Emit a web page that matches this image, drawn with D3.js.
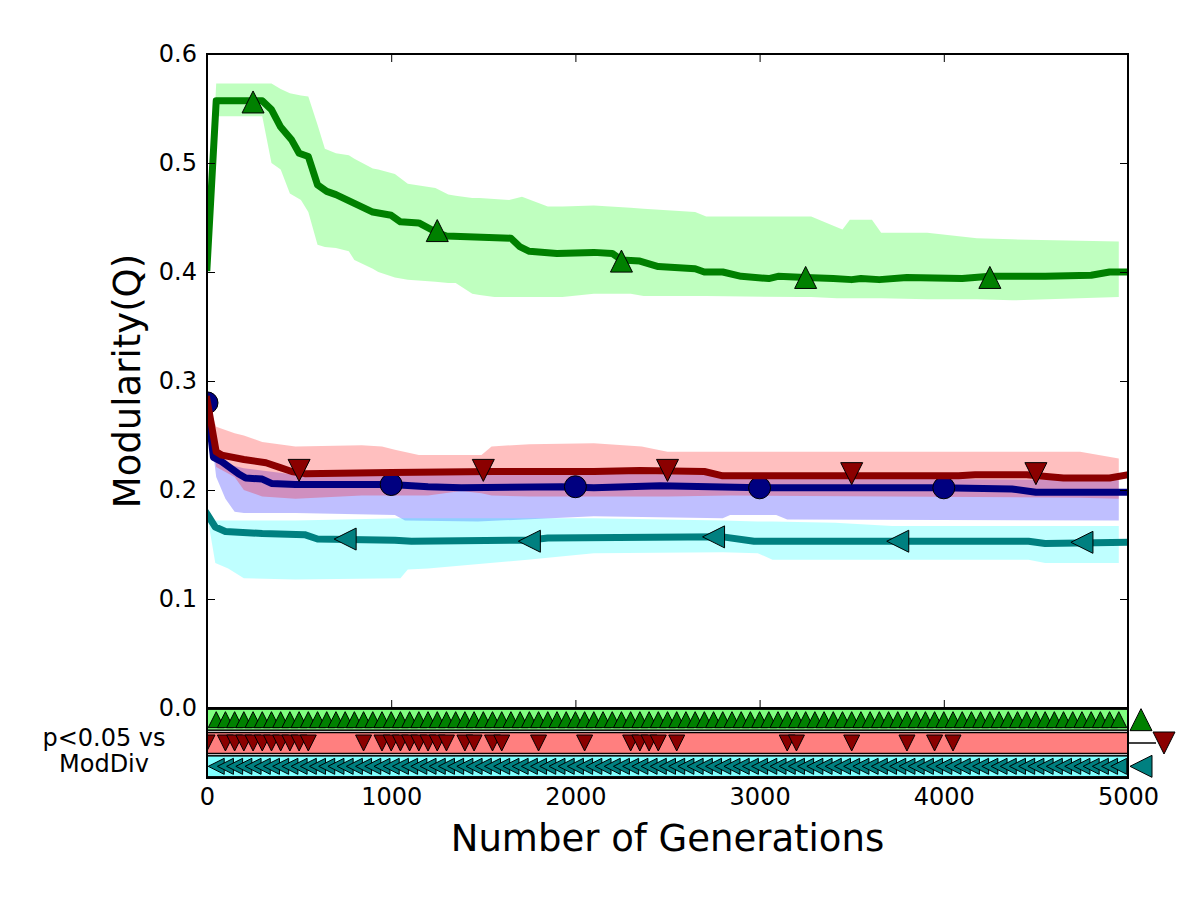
<!DOCTYPE html>
<html>
<head>
<meta charset="utf-8">
<script src="https://cdn.jsdelivr.net/npm/d3@7"></script>
<style>
  body { margin: 0; background: #fff; }
  svg { display: block; font-family: "DejaVu Sans", sans-serif; }
</style>
</head>
<body>
<svg width="1200" height="900"></svg>
<script>
// ---- data ----
const xTicks = [0, 1000, 2000, 3000, 4000, 5000];
const yTicks = [0.0, 0.1, 0.2, 0.3, 0.4, 0.5, 0.6];

// green (^)
const greenGen  = [0, 50, 300, 350, 400, 460, 500, 550, 600, 650, 700, 800, 900, 1000, 1050, 1150, 1250, 1300, 1650, 1700, 1750, 1900, 2100, 2200, 2250, 2350, 2450, 2650, 2700, 2800, 2900, 3050, 3100, 3250, 3400, 3500, 3550, 3650, 3800, 4100, 4250, 4550, 4800, 4900, 5000];
const greenMean = [0.404, 0.557, 0.557, 0.549, 0.533, 0.521, 0.509, 0.506, 0.480, 0.474, 0.471, 0.463, 0.455, 0.452, 0.446, 0.445, 0.436, 0.433, 0.431, 0.423, 0.419, 0.417, 0.418, 0.417, 0.411, 0.410, 0.405, 0.403, 0.400, 0.400, 0.396, 0.394, 0.396, 0.395, 0.394, 0.393, 0.394, 0.393, 0.395, 0.394, 0.396, 0.396, 0.397, 0.400, 0.400];
const greenBandGen = [0, 50, 300, 350, 400, 450, 510, 550, 600, 640, 700, 770, 800, 900, 930, 1020, 1090, 1240, 1310, 1350, 1440, 1480, 1560, 1640, 1710, 1850, 1930, 2100, 2300, 2370, 2650, 2710, 3220, 3280, 3420, 3450, 3490, 3610, 3660, 3910, 4180, 4370, 4950];
const greenHi = [0.404, 0.573, 0.573, 0.573, 0.568, 0.564, 0.562, 0.561, 0.535, 0.513, 0.509, 0.507, 0.504, 0.495, 0.494, 0.490, 0.481, 0.477, 0.471, 0.470, 0.468, 0.468, 0.467, 0.466, 0.469, 0.460, 0.460, 0.461, 0.459, 0.458, 0.455, 0.451, 0.451, 0.451, 0.441, 0.439, 0.448, 0.448, 0.436, 0.436, 0.431, 0.430, 0.428];
const greenLo = [0.404, 0.543, 0.543, 0.500, 0.494, 0.472, 0.466, 0.455, 0.425, 0.423, 0.422, 0.419, 0.411, 0.403, 0.400, 0.395, 0.393, 0.391, 0.390, 0.390, 0.380, 0.379, 0.377, 0.377, 0.377, 0.377, 0.377, 0.380, 0.380, 0.378, 0.378, 0.378, 0.377, 0.377, 0.376, 0.376, 0.376, 0.376, 0.376, 0.375, 0.375, 0.374, 0.377];
const greenMarkGen = [250, 1250, 2250, 3250, 4250];
const greenMarkQ   = [0.556, 0.438, 0.410, 0.395, 0.395];

// dark red (v)
const redGen  = [0, 50, 80, 200, 320, 390, 460, 530, 1000, 1550, 2100, 2350, 2700, 2800, 4080, 4170, 4450, 4650, 4900, 5000];
const redMean = [0.283, 0.235, 0.232, 0.228, 0.225, 0.221, 0.217, 0.215, 0.216, 0.217, 0.217, 0.218, 0.217, 0.213, 0.213, 0.214, 0.214, 0.211, 0.211, 0.214];
const redBandGen = [0, 50, 150, 200, 300, 480, 840, 950, 1020, 1150, 1200, 1380, 1490, 1545, 1750, 2100, 2360, 2500, 2840, 4740, 4950];
const redHi = [0.283, 0.258, 0.252, 0.250, 0.244, 0.240, 0.241, 0.240, 0.237, 0.232, 0.232, 0.232, 0.232, 0.240, 0.242, 0.243, 0.240, 0.235, 0.235, 0.235, 0.229];
const redLo = [0.283, 0.221, 0.212, 0.200, 0.194, 0.192, 0.195, 0.195, 0.195, 0.195, 0.195, 0.199, 0.197, 0.195, 0.194, 0.194, 0.194, 0.194, 0.195, 0.193, 0.192];
const redMarkGen = [500, 1500, 2500, 3500, 4500];
const redMarkQ   = [0.218, 0.218, 0.218, 0.215, 0.215];

// navy (o)
const blueGen  = [0, 35, 80, 170, 210, 300, 350, 480, 1000, 1200, 1380, 1925, 2100, 2460, 3000, 3980, 4370, 4500, 5000];
const blueMean = [0.280, 0.230, 0.226, 0.215, 0.211, 0.210, 0.206, 0.205, 0.205, 0.203, 0.202, 0.203, 0.202, 0.204, 0.202, 0.202, 0.201, 0.198, 0.198];
const blueBandGen = [0, 50, 100, 150, 200, 480, 1020, 1075, 1470, 2100, 2800, 2840, 3090, 3150, 4950];
const blueHi = [0.280, 0.228, 0.224, 0.222, 0.220, 0.214, 0.214, 0.214, 0.215, 0.215, 0.214, 0.211, 0.211, 0.211, 0.209];
const blueLo = [0.280, 0.212, 0.192, 0.180, 0.179, 0.179, 0.177, 0.172, 0.171, 0.176, 0.174, 0.177, 0.177, 0.173, 0.172];
const blueMarkGen = [0, 1000, 2000, 3000, 4000];
const blueMarkQ   = [0.280, 0.205, 0.203, 0.202, 0.202];

// teal (<)
const cyanGen  = [0, 45, 100, 300, 530, 600, 1020, 1110, 1750, 1850, 2800, 2970, 4460, 4550, 5000];
const cyanMean = [0.178, 0.166, 0.162, 0.160, 0.159, 0.155, 0.154, 0.153, 0.154, 0.156, 0.157, 0.153, 0.153, 0.151, 0.152];
const cyanBandGen = [0, 45, 115, 200, 480, 1050, 1090, 1200, 1740, 2100, 2800, 2990, 3070, 3410, 3720, 4460, 4550, 4950];
const cyanHi = [0.178, 0.172, 0.172, 0.172, 0.172, 0.174, 0.174, 0.174, 0.174, 0.174, 0.172, 0.171, 0.171, 0.170, 0.167, 0.167, 0.167, 0.167];
const cyanLo = [0.178, 0.133, 0.128, 0.119, 0.118, 0.119, 0.127, 0.128, 0.136, 0.142, 0.143, 0.142, 0.136, 0.136, 0.136, 0.136, 0.133, 0.133];
const cyanMarkGen = [750, 1750, 2750, 3750, 4750];
const cyanMarkQ   = [0.155, 0.153, 0.157, 0.153, 0.152];

// generations with p<0.05 vs ModDiv
const greenSigGen = [50, 100, 150, 200, 250, 300, 350, 400, 450, 500, 550, 600, 650, 700, 750, 800, 850, 900, 950, 1000,
  1050, 1100, 1150, 1200, 1250, 1300, 1350, 1400, 1450, 1500, 1550, 1600, 1650, 1700, 1750, 1800, 1850, 1900, 1950, 2000,
  2050, 2100, 2150, 2200, 2250, 2300, 2350, 2400, 2450, 2500, 2550, 2600, 2650, 2700, 2750, 2800, 2850, 2900, 2950, 3000,
  3050, 3100, 3150, 3200, 3250, 3300, 3350, 3400, 3450, 3500, 3550, 3600, 3650, 3700, 3750, 3800, 3850, 3900, 3950, 4000,
  4050, 4100, 4150, 4200, 4250, 4300, 4350, 4400, 4450, 4500, 4550, 4600, 4650, 4700, 4750, 4800, 4850, 4900, 4950];
const redSigGen = [0, 100, 150, 200, 250, 300, 350, 400, 450, 500, 550, 850, 950, 1000, 1050, 1100, 1150, 1200, 1250, 1300,
  1400, 1450, 1550, 1600, 1800, 2050, 2300, 2350, 2400, 2450, 2550, 3150, 3200, 3500, 3800, 3950, 4050];
const cyanSigGen = [50, 100, 150, 200, 250, 300, 350, 400, 450, 500, 550, 600, 650, 700, 750, 800, 850, 900, 950, 1000,
  1050, 1100, 1150, 1200, 1250, 1300, 1350, 1400, 1450, 1500, 1550, 1600, 1650, 1700, 1750, 1800, 1850, 1900, 1950, 2000,
  2050, 2100, 2150, 2200, 2250, 2300, 2350, 2400, 2450, 2500, 2550, 2600, 2650, 2700, 2750, 2800, 2850, 2900, 2950, 3000,
  3050, 3100, 3150, 3200, 3250, 3300, 3350, 3400, 3450, 3500, 3550, 3600, 3650, 3700, 3750, 3800, 3850, 3900, 3950, 4000,
  4050, 4100, 4150, 4200, 4250, 4300, 4350, 4400, 4450, 4500, 4550, 4600, 4650, 4700, 4750, 4800, 4850, 4900, 4950];

// ---- layout ----
const svg = d3.select("svg");
const plotL = 207, plotR = 1128, plotT = 54, zeroY = 708, stripB = 778;

const x = d3.scaleLinear().domain([0, 5000]).range([plotL, plotR]);
const y = d3.scaleLinear().domain([0, 0.6]).range([zeroY, plotT]);
const rows = d3.scaleBand()
  .domain(["green", "red", "cyan"])
  .range([zeroY, stripB])
  .paddingInner(0.1)
  .paddingOuter(0.05);

function markerPath(shape, s) {
  const h = s / 2;
  if (shape === "up") return `M0,${-h}L${h},${h}L${-h},${h}Z`;
  if (shape === "down") return `M0,${h}L${h},${-h}L${-h},${-h}Z`;
  if (shape === "left") return `M${-h},0L${h},${-h}L${h},${h}Z`;
  return d3.symbol(d3.symbolCircle, Math.PI * h * h)();
}

const zip = (xs, ys) => xs.map((g, i) => [g, ys[i]]);

// plotting order as in the figure: blue, red, green, teal
const series = [
  { key: "blue",  line: "#000080", band: "rgba(0,0,255,0.25)", gen: blueGen,  mean: blueMean,
    bandGen: blueBandGen, lo: blueLo, hi: blueHi, markGen: blueMarkGen, markQ: blueMarkQ, shape: "circle" },
  { key: "red",   line: "#8b0000", band: "rgba(255,0,0,0.25)", gen: redGen,   mean: redMean,
    bandGen: redBandGen, lo: redLo, hi: redHi, markGen: redMarkGen, markQ: redMarkQ, shape: "down" },
  { key: "green", line: "#008000", band: "rgba(0,255,0,0.25)", gen: greenGen, mean: greenMean,
    bandGen: greenBandGen, lo: greenLo, hi: greenHi, markGen: greenMarkGen, markQ: greenMarkQ, shape: "up" },
  { key: "cyan",  line: "#008080", band: "rgba(0,255,255,0.25)", gen: cyanGen, mean: cyanMean,
    bandGen: cyanBandGen, lo: cyanLo, hi: cyanHi, markGen: cyanMarkGen, markQ: cyanMarkQ, shape: "left" }
];

const defs = svg.append("defs");
defs.append("clipPath").attr("id", "clipMain")
  .append("rect").attr("x", plotL).attr("y", plotT).attr("width", plotR - plotL).attr("height", zeroY - plotT);
defs.append("clipPath").attr("id", "clipStrip")
  .append("rect").attr("x", plotL).attr("y", zeroY).attr("width", plotR - plotL).attr("height", stripB - zeroY);

const plot = svg.append("g").attr("clip-path", "url(#clipMain)");

// bands
const area = d3.area().x(d => x(d[0])).y0(d => y(d[1])).y1(d => y(d[2]));
plot.selectAll("path.band")
  .data(series)
  .enter().append("path")
  .attr("class", "band")
  .attr("fill", s => s.band)
  .attr("d", s => area(s.bandGen.map((g, i) => [g, s.lo[i], s.hi[i]])));

// mean lines + markers
const line = d3.line().x(d => x(d[0])).y(d => y(d[1]));
series.forEach(s => {
  plot.append("path")
    .attr("d", line(zip(s.gen, s.mean)))
    .attr("fill", "none")
    .attr("stroke", s.line)
    .attr("stroke-width", 7)
    .attr("stroke-linejoin", "round")
    .attr("stroke-linecap", "square");

  plot.selectAll(null)
    .data(zip(s.markGen, s.markQ))
    .enter().append("path")
    .attr("transform", d => `translate(${x(d[0])},${y(d[1])})`)
    .attr("d", markerPath(s.shape, 22))
    .attr("fill", s.line)
    .attr("stroke", "#000")
    .attr("stroke-width", 1);
});

// significance strip
const stripRows = [
  { key: "green", fill: "rgba(0,255,0,0.5)",   color: "#008000", shape: "up",   gens: greenSigGen },
  { key: "red",   fill: "rgba(255,0,0,0.5)",   color: "#8b0000", shape: "down", gens: redSigGen },
  { key: "cyan",  fill: "rgba(0,255,255,0.5)", color: "#008080", shape: "left", gens: cyanSigGen }
];

const strip = svg.append("g");
strip.selectAll("rect")
  .data(stripRows)
  .enter().append("rect")
  .attr("x", plotL)
  .attr("y", d => rows(d.key))
  .attr("width", plotR - plotL)
  .attr("height", rows.bandwidth())
  .attr("fill", d => d.fill)
  .attr("stroke", "#000")
  .attr("stroke-width", 1.5);

const stripMarks = svg.append("g").attr("clip-path", "url(#clipStrip)");
stripRows.forEach(r => {
  const cy = rows(r.key) + rows.bandwidth() / 2;
  stripMarks.selectAll(null)
    .data(r.gens)
    .enter().append("path")
    .attr("transform", g => `translate(${x(g)},${cy})`)
    .attr("d", markerPath(r.shape, 16))
    .attr("fill", r.color)
    .attr("stroke", "#000")
    .attr("stroke-width", 1);
});

// row keys on the right side
const keyOffset = { green: 13, red: 36, cyan: 13 };
svg.append("line")
  .attr("x1", plotR).attr("x2", plotR + 28)
  .attr("y1", rows("red") + rows.bandwidth() / 2)
  .attr("y2", rows("red") + rows.bandwidth() / 2)
  .attr("stroke", "#000").attr("stroke-width", 1.5);
svg.selectAll("path.key")
  .data(stripRows)
  .enter().append("path")
  .attr("class", "key")
  .attr("transform", r => `translate(${plotR + keyOffset[r.key]},${rows(r.key) + rows.bandwidth() / 2})`)
  .attr("d", r => markerPath(r.shape, 22))
  .attr("fill", r => r.color)
  .attr("stroke", "#000")
  .attr("stroke-width", 1);

// axes
const tickFont = 24;
function styleAxis(g, keepText) {
  g.select(".domain").remove();
  g.selectAll(".tick line").attr("stroke", "#000").attr("stroke-width", 1);
  if (!keepText) g.selectAll(".tick text").remove();
  else g.selectAll(".tick text").attr("font-size", tickFont).attr("fill", "#000")
        .attr("font-family", "DejaVu Sans, sans-serif");
}

svg.append("g")
  .attr("transform", `translate(${plotL},0)`)
  .call(d3.axisLeft(y).tickValues(yTicks).tickFormat(d3.format(".1f")).tickSizeInner(-8).tickSizeOuter(0).tickPadding(10))
  .call(g => styleAxis(g, true));

svg.append("g")
  .attr("transform", `translate(${plotR},0)`)
  .call(d3.axisRight(y).tickValues(yTicks).tickSizeInner(-8).tickSizeOuter(0))
  .call(g => styleAxis(g, false));

svg.append("g")
  .attr("transform", `translate(0,${plotT})`)
  .call(d3.axisTop(x).tickValues(xTicks).tickSizeInner(-8).tickSizeOuter(0))
  .call(g => styleAxis(g, false));

svg.append("g")
  .attr("transform", `translate(0,${zeroY})`)
  .call(d3.axisBottom(x).tickValues(xTicks).tickSizeInner(-8).tickSizeOuter(0))
  .call(g => styleAxis(g, false));

svg.append("g")
  .attr("transform", `translate(0,${stripB})`)
  .call(d3.axisBottom(x).tickValues(xTicks).tickFormat(d3.format("d")).tickSizeInner(0).tickSizeOuter(0).tickPadding(10))
  .call(g => styleAxis(g, true));

// frame
svg.append("rect")
  .attr("x", plotL).attr("y", plotT)
  .attr("width", plotR - plotL).attr("height", stripB - plotT)
  .attr("fill", "none").attr("stroke", "#000").attr("stroke-width", 2);
svg.append("line")
  .attr("x1", plotL).attr("x2", plotR).attr("y1", zeroY).attr("y2", zeroY)
  .attr("stroke", "#000").attr("stroke-width", 2);

// labels
svg.append("text")
  .attr("x", (plotL + plotR) / 2).attr("y", 851)
  .attr("text-anchor", "middle")
  .attr("font-size", 37)
  .text("Number of Generations");

svg.append("text")
  .attr("transform", `translate(127,${(plotT + zeroY) / 2}) rotate(-90)`)
  .attr("text-anchor", "middle")
  .attr("dominant-baseline", "central")
  .attr("font-size", 37)
  .text("Modularity(Q)");

const stripLabel = svg.append("text")
  .attr("text-anchor", "middle")
  .attr("font-size", tickFont);
stripLabel.append("tspan").attr("x", 104).attr("y", 746).text("p<0.05 vs");
stripLabel.append("tspan").attr("x", 104).attr("y", 772).text("ModDiv");
</script>
</body>
</html>
